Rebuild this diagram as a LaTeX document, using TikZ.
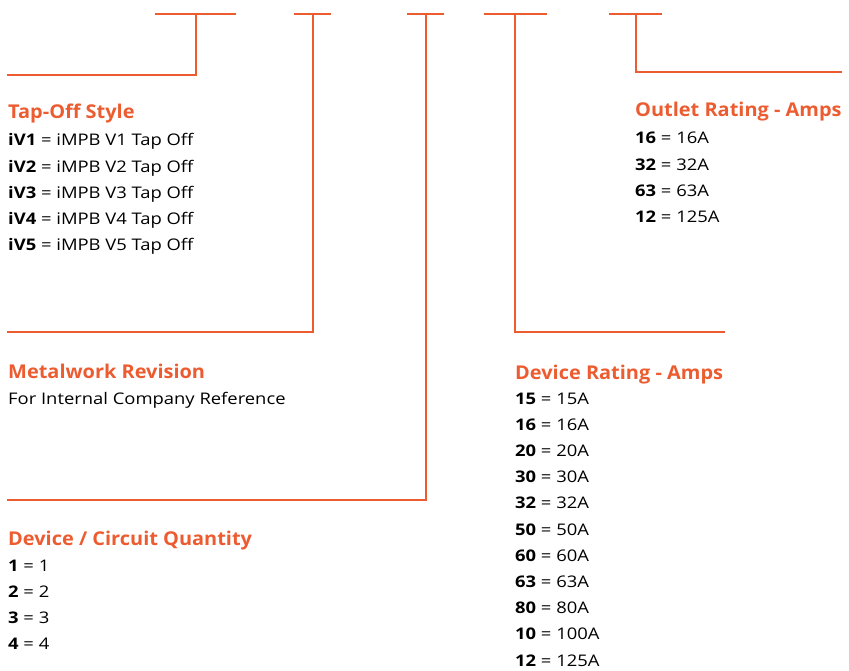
\documentclass[tikz,border=0pt]{standalone}
\usepackage{fontspec}
\setmainfont{Open Sans}
\newfontfamily\bodyfont{Open Sans}[FakeStretch=1.15]
\newfontfamily\headfont{Open Sans}[FakeStretch=1.05]
\definecolor{codeorange}{RGB}{236,92,48}
\tikzset{
  lead/.style={draw=codeorange, line width=2pt},
  head/.style={anchor=base west, inner sep=0pt, text=codeorange, font=\headfont\fontsize{19}{21}\selectfont\bfseries},
  entry/.style={anchor=base west, inner sep=0pt, font=\bodyfont\fontsize{16}{18}\selectfont},
}
\begin{document}
\begin{tikzpicture}[x=1pt, y=-1pt, line join=miter, line cap=butt]
\useasboundingbox (0,0) rectangle (849,671);
% top bars of the code
\coordinate (barA) at (196,14);
\coordinate (barB) at (313,14);
\coordinate (barC) at (426,14);
\coordinate (barD) at (515,14);
\coordinate (barE) at (636,14);
\draw[lead] (155,14) -- (236,14) (294,14) -- (331,14) (407,14) -- (444,14)
            (484,14) -- (547,14) (609,14) -- (662,14);
% leaders
\coordinate (endA) at (7,75);
\coordinate (endB) at (7,332);
\coordinate (endC) at (7,500);
\coordinate (endD) at (725,332);
\coordinate (endE) at (842,72);
\draw[lead] (barA) |- (endA);
\draw[lead] (barB) |- (endB);
\draw[lead] (barC) |- (endC);
\draw[lead] (barD) |- (endD);
\draw[lead] (barE) |- (endE);
% tap-off style
\node[head] (taphead) at (8,119) {Tap-Off Style};
\foreach \v [count=\i] in {1,...,5}
  \node[entry] (tap\i) at (8,{146+26.2*(\i-1)}) {\textbf{iV\v} = iMPB V\v{} Tap Off};
% metalwork revision
\node[head] (metalhead) at (8,378) {Metalwork Revision};
\node[entry] (metal) at (8,404) {For Internal Company Reference};
% device / circuit quantity
\node[head] (qtyhead) at (8,545) {Device / Circuit Quantity};
\foreach \v [count=\i] in {1,...,4}
  \node[entry] (qty\i) at (8,{571+26.2*(\i-1)}) {\textbf{\v} = \v};
% device rating
\node[head] (devhead) at (515,379) {Device Rating - Amps};
\foreach \k/\v [count=\i] in {15/15A,16/16A,20/20A,30/30A,32/32A,50/50A,60/60A,63/63A,80/80A,10/100A,12/125A}
  \node[entry] (dev\i) at (515,{404+26.2*(\i-1)}) {\textbf{\k} = \v};
% outlet rating
\node[head] (outhead) at (635,117) {Outlet Rating - Amps};
\foreach \k/\v [count=\i] in {16/16A,32/32A,63/63A,12/125A}
  \node[entry] (out\i) at (635,{144+26.2*(\i-1)}) {\textbf{\k} = \v};
\end{tikzpicture}
\end{document}
